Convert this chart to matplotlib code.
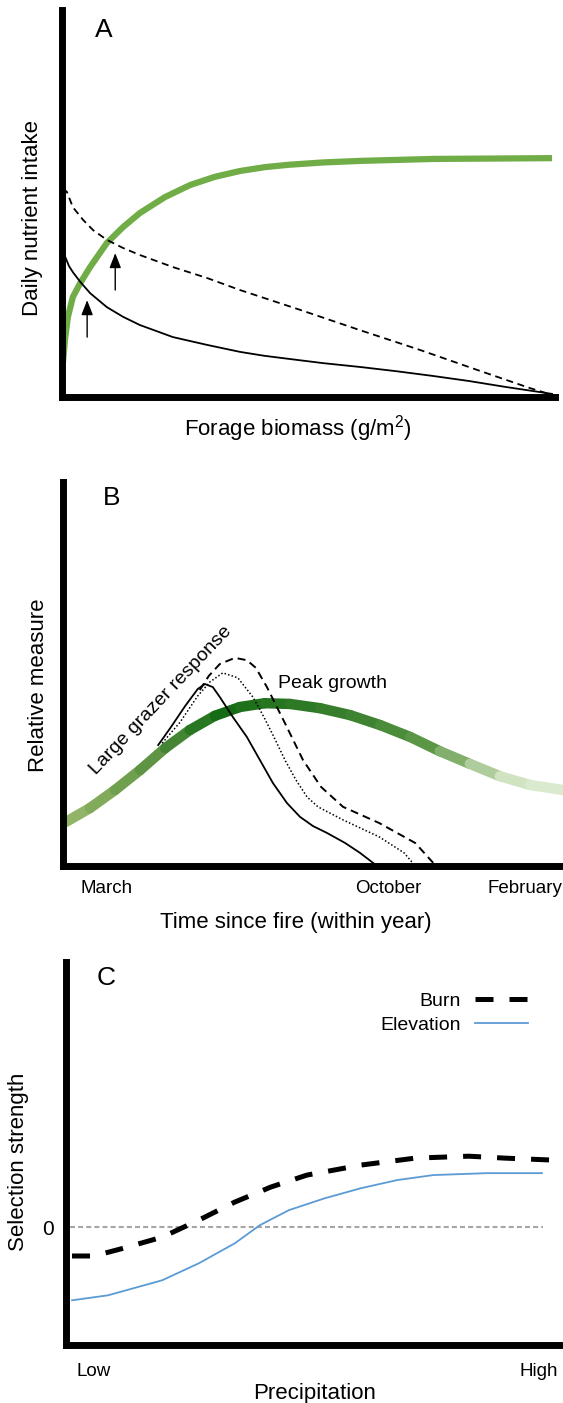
import matplotlib
matplotlib.use('Agg')
import matplotlib.pyplot as plt
import numpy as np
from matplotlib.collections import LineCollection
from matplotlib.colors import LinearSegmentedColormap

plt.rcParams['font.family'] = ['Liberation Sans', 'DejaVu Sans']
plt.rcParams['mathtext.default'] = 'regular'

W, H = 563, 1403

# ---- panel A: daily nutrient intake vs forage biomass ----
a_green_x = [0.002, 0.006, 0.012, 0.022, 0.037, 0.057, 0.091, 0.124, 0.158, 0.209,
             0.260, 0.310, 0.361, 0.412, 0.460, 0.530, 0.606, 0.753, 0.994]
a_green_y = [0.090, 0.147, 0.206, 0.257, 0.293, 0.334, 0.396, 0.437, 0.473, 0.514,
             0.545, 0.566, 0.581, 0.591, 0.597, 0.603, 0.607, 0.612, 0.614]
a_dash_x = [0.002, 0.010, 0.022, 0.043, 0.063, 0.091, 0.124, 0.158, 0.225, 0.294,
            0.361, 0.483, 0.604, 0.726, 0.848, 0.949, 1.0]
a_dash_y = [0.537, 0.527, 0.488, 0.455, 0.429, 0.404, 0.383, 0.365, 0.334, 0.306,
            0.275, 0.224, 0.172, 0.121, 0.067, 0.023, 0.003]
a_solid_x = [0.002, 0.006, 0.014, 0.022, 0.037, 0.057, 0.091, 0.124, 0.158, 0.225,
             0.294, 0.361, 0.410, 0.460, 0.530, 0.606, 0.680, 0.753, 0.826, 0.899, 0.994]
a_solid_y = [0.378, 0.362, 0.337, 0.321, 0.296, 0.267, 0.231, 0.206, 0.185, 0.154,
             0.134, 0.116, 0.106, 0.098, 0.087, 0.077, 0.066, 0.054, 0.041, 0.026, 0.008]
# arrows: x, tail y, tip y
arrow_x = [0.051, 0.108]
arrow_tail = [0.154, 0.275]
arrow_tip = [0.249, 0.370]

# ---- panel B: relative measure vs time since fire ----
b_green_x = [0.008, 0.056, 0.106, 0.156, 0.206, 0.255, 0.305, 0.355, 0.405, 0.455,
             0.515, 0.575, 0.635, 0.695, 0.754, 0.814, 0.874, 0.934, 1.0]
b_green_y = [0.115, 0.151, 0.198, 0.250, 0.307, 0.354, 0.391, 0.414, 0.424, 0.422,
             0.411, 0.393, 0.367, 0.336, 0.299, 0.266, 0.234, 0.211, 0.198]
b_solid_x = [0.192, 0.216, 0.246, 0.271, 0.285, 0.301, 0.315, 0.341, 0.369, 0.395,
             0.421, 0.449, 0.475, 0.501, 0.529, 0.565, 0.595, 0.629]
b_solid_y = [0.315, 0.359, 0.417, 0.461, 0.474, 0.466, 0.440, 0.388, 0.336, 0.276,
             0.216, 0.164, 0.128, 0.104, 0.086, 0.060, 0.034, 0.0]
b_dot_x = [0.200, 0.236, 0.271, 0.295, 0.321, 0.351, 0.381, 0.403, 0.423, 0.445,
           0.467, 0.489, 0.511, 0.561, 0.633, 0.683, 0.705]
b_dot_y = [0.320, 0.375, 0.443, 0.479, 0.503, 0.490, 0.440, 0.388, 0.336, 0.276,
           0.224, 0.180, 0.154, 0.120, 0.076, 0.034, 0.0]
b_dash_x = [0.275, 0.293, 0.315, 0.345, 0.369, 0.387, 0.409, 0.445, 0.481, 0.517,
            0.561, 0.633, 0.705, 0.741]
b_dash_y = [0.458, 0.495, 0.526, 0.542, 0.536, 0.516, 0.466, 0.372, 0.276, 0.206,
            0.154, 0.112, 0.060, 0.008]
b_ticks = [0.088, 0.651, 0.924]
b_ticklabels = ['March', 'October', 'February']

# ---- panel C: selection strength vs precipitation ----
c_burn_x = [0.020, 0.064, 0.122, 0.200, 0.273, 0.345, 0.417, 0.489, 0.597, 0.705,
            0.812, 0.884, 0.978]
c_burn_y = [-0.075, -0.075, -0.055, -0.026, 0.018, 0.065, 0.104, 0.135, 0.161, 0.179,
            0.184, 0.179, 0.174]
c_elev_x = [0.020, 0.092, 0.200, 0.273, 0.345, 0.395, 0.453, 0.525, 0.597, 0.669,
            0.741, 0.848, 0.958]
c_elev_y = [-0.190, -0.177, -0.138, -0.094, -0.042, 0.005, 0.044, 0.075, 0.101, 0.122,
            0.135, 0.140, 0.140]
c_ticks = [0.064, 0.952]
c_ticklabels = ['Low', 'High']


def px_axes(l, t, r, b):
    return [l / W, 1 - b / H, (r - l) / W, (b - t) / H]


def style_axes(ax):
    for s in ['top', 'right']:
        ax.spines[s].set_visible(False)
    for s in ['left', 'bottom']:
        ax.spines[s].set_linewidth(5)
        ax.spines[s].set_capstyle('projecting')
    ax.tick_params(length=0)
    ax.set_xticks([])
    ax.set_yticks([])


def ftext(x, y, s, **kw):
    fig.text(x / W, 1 - y / H, s, **kw)


fig = plt.figure(figsize=(W / 100, H / 100), dpi=100)

# ---------- A ----------
ax = fig.add_axes(px_axes(62, 10, 555, 397))
style_axes(ax)
ax.set_xlim(0, 1)
ax.set_ylim(0, (397 - 10) / 389)
ax.plot(a_green_x, a_green_y, color='#70ad47', lw=4.5, solid_capstyle='butt',
        solid_joinstyle='round', zorder=2)
ax.plot(a_dash_x, a_dash_y, color='black', lw=1.3, dashes=(3.9, 2.6), zorder=3)
ax.plot(a_solid_x, a_solid_y, color='black', lw=1.3, zorder=3)
for x, t0, t1 in zip(arrow_x, arrow_tail, arrow_tip):
    ax.annotate('', xy=(x, t1), xytext=(x, t0),
                arrowprops=dict(arrowstyle='-|>,head_length=0.9,head_width=0.35',
                                color='black', lw=1.0, shrinkA=0, shrinkB=0))
ftext(104, 30, 'A', fontsize=19, ha='center', va='center')
ftext(33, 218, 'Daily nutrient intake', fontsize=16, rotation=90, ha='center', va='center')
ftext(298, 435, 'Forage biomass (g/m$^{2}$)', fontsize=16, ha='center', va='baseline')

# ---------- B ----------
ax = fig.add_axes(px_axes(63, 482, 563, 866))
style_axes(ax)
ax.set_xlim((63 - 62) / 501, 1)
ax.set_ylim(0, 1)
cmap = LinearSegmentedColormap.from_list('g', [
    (0.0, '#9dbb6e'), (0.18, '#5e9443'), (0.32, '#146b14'), (0.45, '#2a7623'),
    (0.62, '#3f8432'), (0.74, '#5f9849'), (0.82, '#9fc289'), (0.9, '#cfe3c1'),
    (1.0, '#dfedd6')])
pts = np.column_stack([b_green_x, b_green_y])
segs = np.stack([pts[:-1], pts[1:]], axis=1)
mids = (pts[:-1, 0] + pts[1:, 0]) / 2
lc = LineCollection(segs, colors=cmap(mids), linewidths=7.5, capstyle='round', zorder=2)
ax.add_collection(lc)
ax.plot(b_solid_x, b_solid_y, color='black', lw=1.3, zorder=3)
ax.plot(b_dot_x, b_dot_y, color='black', lw=1.1, linestyle=(0, (1, 1.4)), zorder=3)
ax.plot(b_dash_x, b_dash_y, color='black', lw=1.4, dashes=(4.1, 2.6), zorder=3)
ax.set_xticks(b_ticks)
ax.set_xticklabels(b_ticklabels, fontsize=13.5)
ax.tick_params(axis='x', length=0, pad=10)
ftext(112, 498, 'B', fontsize=19, ha='center', va='center')
ftext(39, 685, 'Relative measure', fontsize=16, rotation=90, ha='center', va='center')
ftext(296, 928, 'Time since fire (within year)', fontsize=16, ha='center', va='baseline')
ftext(161, 700, 'Large grazer response', fontsize=14, rotation=46.5,
      ha='center', va='center', rotation_mode='anchor')
ftext(332, 683, 'Peak growth', fontsize=14, ha='center', va='center')

# ---------- C ----------
ax = fig.add_axes(px_axes(66, 962, 563, 1345))
style_axes(ax)
ax.set_xlim((66 - 62) / 501, 1)
ax.set_ylim(-0.306, 0.688)
ax.axhline(0, xmin=0.008, xmax=0.96, color='#a6a6a6', lw=1.5, dashes=(2.4, 1.5), zorder=1)
ax.plot(c_burn_x, c_burn_y, color='black', lw=3.6, dashes=(3.6, 3.2), zorder=3,
        label='Burn')
ax.plot(c_elev_x, c_elev_y, color='#5b9bd5', lw=1.3, zorder=3, label='Elevation')
ax.set_xticks(c_ticks)
ax.set_xticklabels(c_ticklabels, fontsize=13.5)
ax.tick_params(axis='x', length=0, pad=13)
ax.set_yticks([0])
ax.set_yticklabels(['0'], fontsize=15)
ax.tick_params(axis='y', length=0, pad=9)
ax.legend(loc='upper right', bbox_to_anchor=(528 / W, 1 - 992 / H),
          bbox_transform=fig.transFigure, frameon=False, markerfirst=False,
          fontsize=14, handlelength=2.7, handletextpad=0.75, labelspacing=0.35,
          borderpad=0, borderaxespad=0)
ftext(106, 978, 'C', fontsize=19, ha='center', va='center')
ftext(19, 1162, 'Selection strength', fontsize=16, rotation=90, ha='center', va='center')
ftext(315, 1399, 'Precipitation', fontsize=16, ha='center', va='baseline')

fig.savefig('out.png', dpi=100)
